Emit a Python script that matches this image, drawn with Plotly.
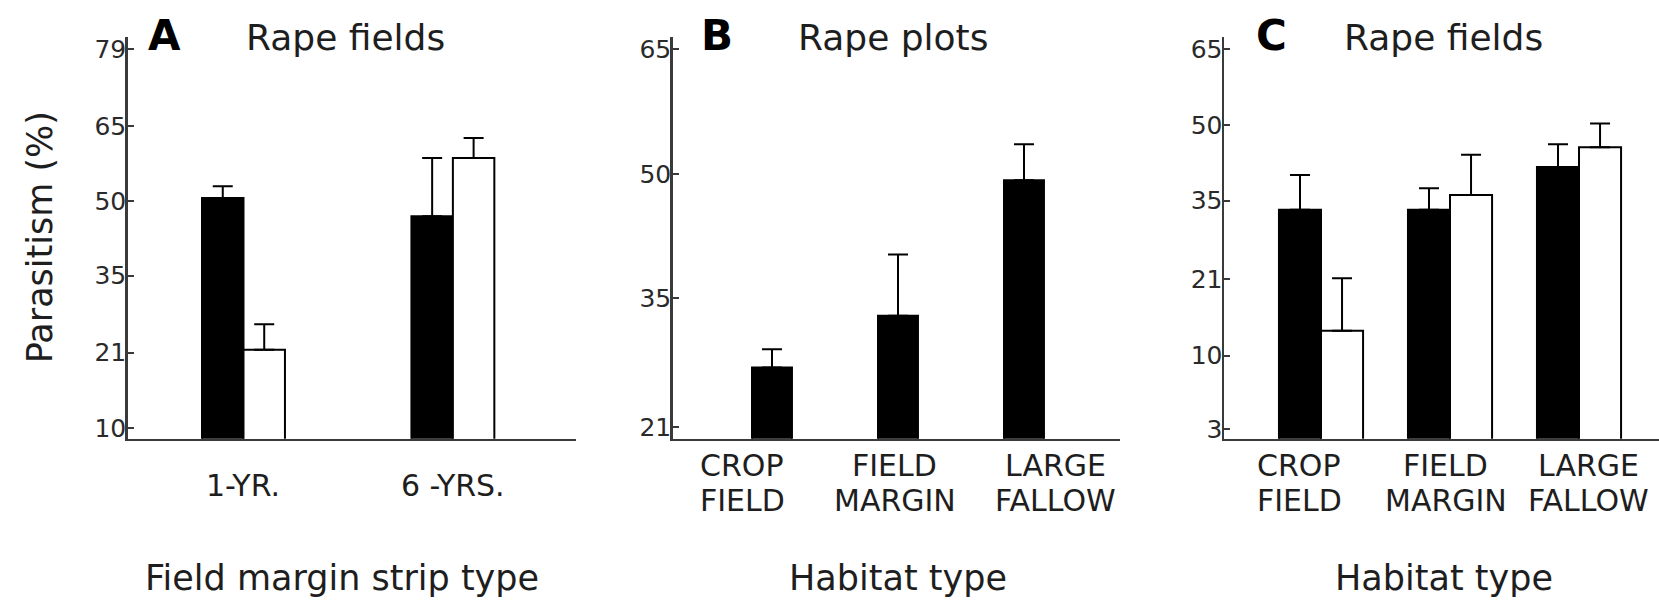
import numpy as np
import plotly.graph_objects as go

# ---------------- data (percent parasitism) ----------------
strip_types = ["1-YR.", "6 -YRS."]
A_filled = [50.6, 46.9]
A_filled_upper = [53.0, 58.7]
A_open = [21.5, 58.7]
A_open_upper = [25.9, 62.7]

habitats = ["CROP FIELD", "FIELD MARGIN", "LARGE FALLOW"]
B_filled = [27.2, 33.0, 49.2]
B_filled_upper = [29.2, 40.2, 53.6]

C_filled = [33.3, 33.3, 41.6]
C_filled_upper = [40.0, 37.4, 46.1]
C_open = [13.2, 36.1, 45.5]
C_open_upper = [21.1, 44.0, 50.3]

A_ticks = [10, 21, 35, 50, 65, 79]
B_ticks = [21, 35, 50, 65]
C_ticks = [3, 10, 21, 35, 50, 65]

panel_letters = ["A", "B", "C"]
panel_titles = ["Rape fields", "Rape plots", "Rape fields"]
x_titles = ["Field margin strip type", "Habitat type", "Habitat type"]
y_title = "Parasitism (%)"


# arcsine-square-root transform used by the figure's y axes
def asin_deg(p):
    return np.degrees(np.arcsin(np.sqrt(np.asarray(p, dtype=float) / 100.0)))


def err_up(mean, upper):
    return (asin_deg(upper) - asin_deg(mean)).tolist()


# ---------------- layout constants ----------------
W, H = 1659, 601
FONT = "DejaVu Sans"
INK = "#1e1e1e"
AXC = "#3a3a3a"


def px(x):
    return x / W


def py(y):
    return 1 - y / H


y_dom = [py(442), py(35)]
x_doms = [[px(127.7), px(576)], [px(672.7), px(1120)], [px(1224), 1.0]]
x_ranges = [[-0.553, 1.588], [-0.788, 2.762], [-0.752, 2.62]]
y_ranges = [[17.2, 64.2], [26.44, 54.61], [8.85, 55.17]]
bar_w = [0.198, 0.317, 0.326]
B_label_pos = [-0.238, 0.973, 2.25]
C_label_pos = [-0.17, 0.965, 2.07]

fig = go.Figure()


def add_bar(xs, ys, upper, w, offset, fill, axis):
    fig.add_trace(go.Bar(
        x=xs, y=asin_deg(ys).tolist(),
        width=w, offset=offset,
        marker=dict(color=fill, line=dict(color="black", width=2)),
        error_y=dict(type="data", symmetric=False, array=err_up(ys, upper),
                     arrayminus=[0] * len(ys), color="black", thickness=2, width=10),
        xaxis="x" + axis, yaxis="y" + axis,
        showlegend=False, hoverinfo="skip",
    ))


xa = list(range(len(strip_types)))
xh = list(range(len(habitats)))
add_bar(xa, A_filled, A_filled_upper, bar_w[0], -bar_w[0], "black", "")
add_bar(xa, A_open, A_open_upper, bar_w[0], 0, "white", "")
add_bar(xh, B_filled, B_filled_upper, bar_w[1], -bar_w[1] / 2, "black", "2")
add_bar(xh, C_filled, C_filled_upper, bar_w[2], -bar_w[2], "black", "3")
add_bar(xh, C_open, C_open_upper, bar_w[2], 0, "white", "3")

layout = dict(
    width=W, height=H, margin=dict(l=0, r=0, t=0, b=0),
    paper_bgcolor="white", plot_bgcolor="white",
    barmode="overlay", showlegend=False,
    font=dict(family=FONT, color=INK),
)

tick_sets = [A_ticks, B_ticks, C_ticks]
for i in range(3):
    sfx = "" if i == 0 else str(i + 1)
    layout["xaxis" + sfx] = dict(
        domain=x_doms[i], range=x_ranges[i], anchor="y" + sfx,
        showline=True, linecolor=AXC, linewidth=2.5, ticks="",
        showticklabels=False, showgrid=False, zeroline=False, fixedrange=True,
    )
    layout["yaxis" + sfx] = dict(
        domain=y_dom, range=y_ranges[i], anchor="x" + sfx,
        showline=True, linecolor=AXC, linewidth=2.5,
        tickvals=asin_deg(tick_sets[i]).tolist(),
        ticktext=[str(t) for t in tick_sets[i]],
        ticks="inside", ticklen=6, tickwidth=2, tickcolor=AXC,
        ticklabelstandoff=-6,
        tickfont=dict(family=FONT, size=25, color="#2a2a2a"),
        showgrid=False, zeroline=False, fixedrange=True,
    )

fig.update_layout(**layout)

ann = []
letter_x = [164, 717, 1271]
title_x = [345, 893, 1443]
xtitle_x = [342, 898, 1444]
for i in range(3):
    ann.append(dict(text="<b>" + panel_letters[i] + "</b>", x=px(letter_x[i]), y=py(34),
                    xref="paper", yref="paper", showarrow=False,
                    xanchor="center", yanchor="middle",
                    font=dict(family=FONT, size=42, color="black")))
    ann.append(dict(text=panel_titles[i], x=px(title_x[i]), y=py(36), xref="paper",
                    yref="paper", showarrow=False, xanchor="center", yanchor="middle",
                    font=dict(family=FONT, size=36, color=INK)))
    ann.append(dict(text=x_titles[i], x=px(xtitle_x[i]), y=py(583), xref="paper",
                    yref="paper", showarrow=False, xanchor="center", yanchor="middle",
                    font=dict(family=FONT, size=35, color=INK)))

ann.append(dict(text=y_title, x=px(40), y=py(238), xref="paper", yref="paper",
                showarrow=False, textangle=-90, xanchor="center", yanchor="middle",
                font=dict(family=FONT, size=35, color=INK)))

for j, lab in enumerate(strip_types):
    ann.append(dict(text=lab, x=xa[j], xref="x", y=py(489), yref="paper",
                    showarrow=False, xanchor="center", yanchor="middle",
                    font=dict(family=FONT, size=30, color=INK)))

for axis, pos in (("x2", B_label_pos), ("x3", C_label_pos)):
    for j, lab in enumerate(habitats):
        top, bottom = lab.split(" ")
        for txt, yy in ((top, 469), (bottom, 504)):
            ann.append(dict(text=txt, x=pos[j], xref=axis, y=py(yy), yref="paper",
                            showarrow=False, xanchor="center", yanchor="middle",
                            font=dict(family=FONT, size=30, color=INK)))

fig.update_layout(annotations=ann)
fig.write_html(
    "out.html",
    config={"displayModeBar": False, "staticPlot": True},
    post_script="document.body.style.margin='0';document.body.style.overflow='hidden';",
)
